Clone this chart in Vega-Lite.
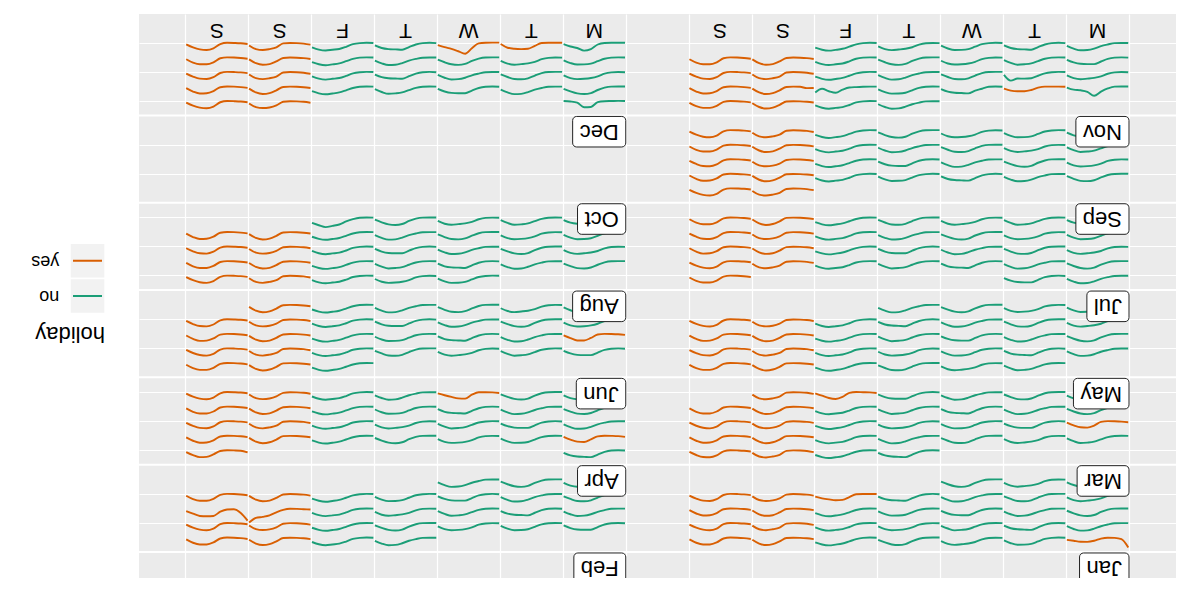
{
"$schema": "https://vega.github.io/schema/vega-lite/v6.json",
"background": "white",
"padding": {"left": 30, "top": 14, "right": 12, "bottom": 16},
"bounds": "flush",
"center": true,
"spacing": 34,
"config": {"view": {"stroke": null}, "font": "Liberation Sans", "text": {"font": "Liberation Sans", "color": "#000000"}},
"datasets": {
"legend": [{"key": "yes"}, {"key": "no"}, {"key": "holiday"}],
"months": [{"month":"Jan"},{"month":"Feb"},{"month":"Mar"},{"month":"Apr"},{"month":"May"},{"month":"Jun"},{"month":"Jul"},{"month":"Aug"},{"month":"Sep"},{"month":"Oct"},{"month":"Nov"},{"month":"Dec"}],
"days": [
{"date":"2018-01-01","holiday":"yes","value":[66,12,3,2,8,22,29,28,22,16]},
{"date":"2018-01-02","holiday":"no","value":[2,1,3,10,26,42,47,48,38,20]},
{"date":"2018-01-03","holiday":"no","value":[3,2,4,13,30,40,45,49,42,24]},
{"date":"2018-01-04","holiday":"no","value":[1,1,2,9,24,44,50,46,33,16]},
{"date":"2018-01-05","holiday":"no","value":[2,1,3,11,26,40,47,52,46,32]},
{"date":"2018-01-06","holiday":"yes","value":[11,6,3,2,4,26,44,50,40,15]},
{"date":"2018-01-07","holiday":"yes","value":[10,5,2,1,7,33,46,46,35,13]},
{"date":"2018-01-08","holiday":"no","value":[2,2,3,11,22,38,49,51,40,22]},
{"date":"2018-01-09","holiday":"no","value":[3,1,3,12,29,46,44,42,35,18]},
{"date":"2018-01-10","holiday":"no","value":[2,1,3,10,25,40,46,49,37,19]},
{"date":"2018-01-11","holiday":"no","value":[3,2,4,12,30,41,46,48,41,23]},
{"date":"2018-01-12","holiday":"no","value":[2,1,3,10,27,41,46,51,45,30]},
{"date":"2018-01-13","holiday":"yes","value":[13,6,3,2,5,31,42,48,42,18]},
{"date":"2018-01-14","holiday":"yes","value":[9,4,2,1,9,37,48,44,31,11]},
{"date":"2018-01-15","holiday":"no","value":[1,1,2,9,24,44,50,46,33,16]},
{"date":"2018-01-16","holiday":"no","value":[2,2,3,12,23,39,48,50,39,21]},
{"date":"2018-01-17","holiday":"no","value":[3,1,3,11,28,45,45,43,34,17]},
{"date":"2018-01-18","holiday":"no","value":[2,1,3,10,26,42,47,48,38,20]},
{"date":"2018-01-19","holiday":"no","value":[2,1,3,11,26,40,47,52,46,32]},
{"date":"2018-01-20","holiday":"yes","value":[12,6,3,2,5,27,45,49,39,14]},
{"date":"2018-01-21","holiday":"yes","value":[10,5,2,1,6,31,45,47,34,12]},
{"date":"2018-01-22","holiday":"no","value":[3,2,4,13,30,40,45,49,42,24]},
{"date":"2018-01-23","holiday":"no","value":[1,1,2,9,25,43,49,47,34,17]},
{"date":"2018-01-24","holiday":"no","value":[2,2,3,11,22,38,49,51,40,22]},
{"date":"2018-01-25","holiday":"no","value":[3,1,3,12,29,46,44,42,35,18]},
{"date":"2018-01-26","holiday":"yes","value":[2,2,2,3,22,40,42,37,30,19]},
{"date":"2018-01-27","holiday":"yes","value":[12,6,3,2,6,30,43,47,41,17]},
{"date":"2018-01-28","holiday":"yes","value":[9,4,2,1,8,35,47,45,32,12]},
{"date":"2018-01-29","holiday":"no","value":[2,1,3,10,26,42,47,48,38,20]},
{"date":"2018-01-30","holiday":"no","value":[3,2,4,13,30,40,45,49,42,24]},
{"date":"2018-01-31","holiday":"no","value":[1,1,2,9,24,44,50,46,33,16]},
{"date":"2018-02-01","holiday":"no","value":[2,2,3,11,22,38,49,51,40,22]},
{"date":"2018-02-02","holiday":"no","value":[2,1,3,10,27,41,46,51,45,30]},
{"date":"2018-02-03","holiday":"yes","value":[11,6,3,2,4,26,44,50,40,15]},
{"date":"2018-02-04","holiday":"yes","value":[10,5,2,1,7,33,46,46,35,13]},
{"date":"2018-02-05","holiday":"no","value":[3,1,3,11,28,45,45,43,34,17]},
{"date":"2018-02-06","holiday":"no","value":[2,1,3,10,26,42,47,48,38,20]},
{"date":"2018-02-07","holiday":"no","value":[3,2,4,12,30,41,46,48,41,23]},
{"date":"2018-02-08","holiday":"no","value":[1,1,2,9,24,44,50,46,33,16]},
{"date":"2018-02-09","holiday":"no","value":[2,1,3,11,26,40,47,52,46,32]},
{"date":"2018-02-10","holiday":"yes","value":[12,6,3,2,6,30,43,47,41,17]},
{"date":"2018-02-11","holiday":"yes","value":[9,4,2,1,9,37,48,44,31,11]},
{"date":"2018-02-12","holiday":"no","value":[2,2,3,12,23,39,48,50,39,21]},
{"date":"2018-02-13","holiday":"no","value":[3,1,3,12,29,46,44,42,35,18]},
{"date":"2018-02-14","holiday":"no","value":[2,1,3,10,25,40,46,49,37,19]},
{"date":"2018-02-15","holiday":"no","value":[3,2,4,13,30,40,45,49,42,24]},
{"date":"2018-02-16","holiday":"no","value":[2,1,3,10,27,41,46,51,45,30]},
{"date":"2018-02-17","holiday":"yes","value":[8,6,4,3,10,26,46,56,63,92]},
{"date":"2018-02-18","holiday":"yes","value":[80,30,6,8,22,50,52,50,35,18]},
{"date":"2018-02-19","holiday":"no","value":[1,1,2,9,25,43,49,47,34,17]},
{"date":"2018-02-20","holiday":"no","value":[2,2,3,11,22,38,49,51,40,22]},
{"date":"2018-02-21","holiday":"no","value":[3,1,3,11,28,45,45,43,34,17]},
{"date":"2018-02-22","holiday":"no","value":[2,1,3,10,26,42,47,48,38,20]},
{"date":"2018-02-23","holiday":"no","value":[2,1,3,11,26,40,47,52,46,32]},
{"date":"2018-02-24","holiday":"yes","value":[12,6,3,2,5,27,45,49,39,14]},
{"date":"2018-02-25","holiday":"yes","value":[10,5,2,1,7,33,46,46,35,13]},
{"date":"2018-02-26","holiday":"no","value":[3,2,4,13,30,40,45,49,42,24]},
{"date":"2018-02-27","holiday":"no","value":[1,1,2,9,24,44,50,46,33,16]},
{"date":"2018-02-28","holiday":"no","value":[2,2,3,12,23,39,48,50,39,21]},
{"date":"2018-03-01","holiday":"no","value":[3,1,3,12,29,46,44,42,35,18]},
{"date":"2018-03-02","holiday":"no","value":[2,1,3,11,26,40,47,52,46,32]},
{"date":"2018-03-03","holiday":"yes","value":[13,6,3,2,5,31,42,48,42,18]},
{"date":"2018-03-04","holiday":"yes","value":[9,4,2,1,8,35,47,45,32,12]},
{"date":"2018-03-05","holiday":"no","value":[2,1,3,10,25,40,46,49,37,19]},
{"date":"2018-03-06","holiday":"no","value":[3,2,4,13,30,40,45,49,42,24]},
{"date":"2018-03-07","holiday":"no","value":[1,1,2,9,25,43,49,47,34,17]},
{"date":"2018-03-08","holiday":"no","value":[2,2,3,11,22,38,49,51,40,22]},
{"date":"2018-03-09","holiday":"no","value":[2,1,3,10,27,41,46,51,45,30]},
{"date":"2018-03-10","holiday":"yes","value":[11,6,3,2,4,26,44,50,40,15]},
{"date":"2018-03-11","holiday":"yes","value":[10,5,2,1,6,31,45,47,34,12]},
{"date":"2018-03-12","holiday":"yes","value":[8,4,2,1,6,30,43,41,28,10]},
{"date":"2018-03-13","holiday":"no","value":[3,1,3,11,28,45,45,43,34,17]},
{"date":"2018-03-14","holiday":"no","value":[2,1,3,10,26,42,47,48,38,20]},
{"date":"2018-03-15","holiday":"no","value":[3,2,4,12,30,41,46,48,41,23]},
{"date":"2018-03-16","holiday":"no","value":[2,1,3,11,26,40,47,52,46,32]},
{"date":"2018-03-17","holiday":"yes","value":[12,6,3,2,6,30,43,47,41,17]},
{"date":"2018-03-18","holiday":"yes","value":[9,4,2,1,9,37,48,44,31,11]},
{"date":"2018-03-19","holiday":"no","value":[1,1,2,9,24,44,50,46,33,16]},
{"date":"2018-03-20","holiday":"no","value":[2,2,3,12,23,39,48,50,39,21]},
{"date":"2018-03-21","holiday":"no","value":[3,1,3,12,29,46,44,42,35,18]},
{"date":"2018-03-22","holiday":"no","value":[2,1,3,10,25,40,46,49,37,19]},
{"date":"2018-03-23","holiday":"no","value":[2,1,3,10,27,41,46,51,45,30]},
{"date":"2018-03-24","holiday":"yes","value":[12,6,3,2,5,27,45,49,39,14]},
{"date":"2018-03-25","holiday":"yes","value":[10,5,2,1,7,33,46,46,35,13]},
{"date":"2018-03-26","holiday":"no","value":[3,2,4,13,30,40,45,49,42,24]},
{"date":"2018-03-27","holiday":"no","value":[1,1,2,9,25,43,49,47,34,17]},
{"date":"2018-03-28","holiday":"no","value":[2,2,3,11,22,38,49,51,40,22]},
{"date":"2018-03-29","holiday":"no","value":[3,1,3,11,28,45,45,43,34,17]},
{"date":"2018-03-30","holiday":"yes","value":[7,3,2,1,6,33,46,40,25,9]},
{"date":"2018-03-31","holiday":"yes","value":[13,6,3,2,5,31,42,48,42,18]},
{"date":"2018-04-01","holiday":"yes","value":[15,4,2,1,6,28,44,46,33,13]},
{"date":"2018-04-02","holiday":"yes","value":[9,4,2,1,5,25,42,40,27,9]},
{"date":"2018-04-03","holiday":"no","value":[2,1,3,10,26,42,47,48,38,20]},
{"date":"2018-04-04","holiday":"no","value":[3,2,4,12,30,41,46,48,41,23]},
{"date":"2018-04-05","holiday":"no","value":[1,1,2,9,24,44,50,46,33,16]},
{"date":"2018-04-06","holiday":"no","value":[2,1,3,11,26,40,47,52,46,32]},
{"date":"2018-04-07","holiday":"yes","value":[11,6,3,2,4,26,44,50,40,15]},
{"date":"2018-04-08","holiday":"yes","value":[10,5,2,1,6,31,45,47,34,12]},
{"date":"2018-04-09","holiday":"no","value":[2,2,3,11,22,38,49,51,40,22]},
{"date":"2018-04-10","holiday":"no","value":[3,1,3,11,28,45,45,43,34,17]},
{"date":"2018-04-11","holiday":"no","value":[2,1,3,10,25,40,46,49,37,19]},
{"date":"2018-04-12","holiday":"no","value":[3,2,4,13,30,40,45,49,42,24]},
{"date":"2018-04-13","holiday":"no","value":[2,1,3,10,27,41,46,51,45,30]},
{"date":"2018-04-14","holiday":"yes","value":[13,6,3,2,5,31,42,48,42,18]},
{"date":"2018-04-15","holiday":"yes","value":[9,4,2,1,8,35,47,45,32,12]},
{"date":"2018-04-16","holiday":"no","value":[1,1,2,9,25,43,49,47,34,17]},
{"date":"2018-04-17","holiday":"no","value":[2,2,3,12,23,39,48,50,39,21]},
{"date":"2018-04-18","holiday":"no","value":[3,1,3,12,29,46,44,42,35,18]},
{"date":"2018-04-19","holiday":"no","value":[2,1,3,10,26,42,47,48,38,20]},
{"date":"2018-04-20","holiday":"no","value":[2,1,3,11,26,40,47,52,46,32]},
{"date":"2018-04-21","holiday":"yes","value":[12,6,3,2,5,27,45,49,39,14]},
{"date":"2018-04-22","holiday":"yes","value":[10,5,2,1,7,33,46,46,35,13]},
{"date":"2018-04-23","holiday":"no","value":[3,2,4,12,30,41,46,48,41,23]},
{"date":"2018-04-24","holiday":"no","value":[1,1,2,9,24,44,50,46,33,16]},
{"date":"2018-04-25","holiday":"yes","value":[7,3,2,2,18,44,42,33,22,10]},
{"date":"2018-04-26","holiday":"no","value":[2,2,3,11,22,38,49,51,40,22]},
{"date":"2018-04-27","holiday":"no","value":[2,1,3,10,27,41,46,51,45,30]},
{"date":"2018-04-28","holiday":"yes","value":[12,6,3,2,6,30,43,47,41,17]},
{"date":"2018-04-29","holiday":"yes","value":[9,4,2,1,9,37,48,44,31,11]},
{"date":"2018-04-30","holiday":"no","value":[3,1,3,12,29,46,44,42,35,18]},
{"date":"2018-05-01","holiday":"no","value":[2,1,3,10,25,40,46,49,37,19]},
{"date":"2018-05-02","holiday":"no","value":[3,2,4,13,30,40,45,49,42,24]},
{"date":"2018-05-03","holiday":"no","value":[1,1,2,9,25,43,49,47,34,17]},
{"date":"2018-05-04","holiday":"no","value":[2,1,3,11,26,40,47,52,46,32]},
{"date":"2018-05-05","holiday":"yes","value":[11,6,3,2,4,26,44,50,40,15]},
{"date":"2018-05-06","holiday":"yes","value":[10,5,2,1,7,33,46,46,35,13]},
{"date":"2018-05-07","holiday":"no","value":[2,2,3,12,23,39,48,50,39,21]},
{"date":"2018-05-08","holiday":"no","value":[3,1,3,12,29,46,44,42,35,18]},
{"date":"2018-05-09","holiday":"no","value":[2,1,3,10,26,42,47,48,38,20]},
{"date":"2018-05-10","holiday":"no","value":[3,2,4,12,30,41,46,48,41,23]},
{"date":"2018-05-11","holiday":"no","value":[2,1,3,10,27,41,46,51,45,30]},
{"date":"2018-05-12","holiday":"yes","value":[13,6,3,2,5,31,42,48,42,18]},
{"date":"2018-05-13","holiday":"yes","value":[9,4,2,1,8,35,47,45,32,12]},
{"date":"2018-05-14","holiday":"no","value":[1,1,2,9,24,44,50,46,33,16]},
{"date":"2018-05-15","holiday":"no","value":[2,2,3,11,22,38,49,51,40,22]},
{"date":"2018-05-16","holiday":"no","value":[3,1,3,11,28,45,45,43,34,17]},
{"date":"2018-05-17","holiday":"no","value":[2,1,3,10,25,40,46,49,37,19]},
{"date":"2018-05-18","holiday":"no","value":[2,1,3,11,26,40,47,52,46,32]},
{"date":"2018-05-19","holiday":"yes","value":[12,6,3,2,5,27,45,49,39,14]},
{"date":"2018-05-20","holiday":"yes","value":[10,5,2,1,6,31,45,47,34,12]},
{"date":"2018-05-21","holiday":"no","value":[3,2,4,13,30,40,45,49,42,24]},
{"date":"2018-05-22","holiday":"no","value":[1,1,2,9,25,43,49,47,34,17]},
{"date":"2018-05-23","holiday":"no","value":[2,2,3,12,23,39,48,50,39,21]},
{"date":"2018-05-24","holiday":"no","value":[3,1,3,12,29,46,44,42,35,18]},
{"date":"2018-05-25","holiday":"no","value":[2,1,3,10,27,41,46,51,45,30]},
{"date":"2018-05-26","holiday":"yes","value":[12,6,3,2,6,30,43,47,41,17]},
{"date":"2018-05-27","holiday":"yes","value":[9,4,2,1,9,37,48,44,31,11]},
{"date":"2018-05-28","holiday":"no","value":[2,1,3,10,26,42,47,48,38,20]},
{"date":"2018-05-29","holiday":"no","value":[3,2,4,12,30,41,46,48,41,23]},
{"date":"2018-05-30","holiday":"no","value":[1,1,2,9,24,44,50,46,33,16]},
{"date":"2018-05-31","holiday":"no","value":[2,2,3,11,22,38,49,51,40,22]},
{"date":"2018-06-01","holiday":"no","value":[2,1,3,11,26,40,47,52,46,32]},
{"date":"2018-06-02","holiday":"yes","value":[11,6,3,2,4,26,44,50,40,15]},
{"date":"2018-06-03","holiday":"yes","value":[10,5,2,1,7,33,46,46,35,13]},
{"date":"2018-06-04","holiday":"no","value":[3,1,3,11,28,45,45,43,34,17]},
{"date":"2018-06-05","holiday":"no","value":[2,1,3,10,25,40,46,49,37,19]},
{"date":"2018-06-06","holiday":"no","value":[3,2,4,13,30,40,45,49,42,24]},
{"date":"2018-06-07","holiday":"no","value":[1,1,2,9,25,43,49,47,34,17]},
{"date":"2018-06-08","holiday":"no","value":[2,1,3,10,27,41,46,51,45,30]},
{"date":"2018-06-09","holiday":"yes","value":[13,6,3,2,5,31,42,48,42,18]},
{"date":"2018-06-10","holiday":"yes","value":[9,4,2,1,9,37,48,44,31,11]},
{"date":"2018-06-11","holiday":"yes","value":[8,4,2,1,5,28,44,44,29,11]},
{"date":"2018-06-12","holiday":"no","value":[2,2,3,11,22,38,49,51,40,22]},
{"date":"2018-06-13","holiday":"no","value":[3,1,3,12,29,46,44,42,35,18]},
{"date":"2018-06-14","holiday":"no","value":[2,1,3,10,26,42,47,48,38,20]},
{"date":"2018-06-15","holiday":"no","value":[2,1,3,11,26,40,47,52,46,32]},
{"date":"2018-06-16","holiday":"yes","value":[12,6,3,2,5,27,45,49,39,14]},
{"date":"2018-06-17","holiday":"yes","value":[10,5,2,1,6,31,45,47,34,12]},
{"date":"2018-06-18","holiday":"no","value":[3,2,4,12,30,41,46,48,41,23]},
{"date":"2018-06-19","holiday":"no","value":[1,1,2,9,24,44,50,46,33,16]},
{"date":"2018-06-20","holiday":"no","value":[2,2,3,12,23,39,48,50,39,21]},
{"date":"2018-06-21","holiday":"no","value":[3,1,3,11,28,45,45,43,34,17]},
{"date":"2018-06-22","holiday":"no","value":[2,1,3,10,27,41,46,51,45,30]},
{"date":"2018-06-23","holiday":"yes","value":[12,6,3,2,6,30,43,47,41,17]},
{"date":"2018-06-24","holiday":"yes","value":[9,4,2,1,8,35,47,45,32,12]},
{"date":"2018-06-25","holiday":"no","value":[2,1,3,10,25,40,46,49,37,19]},
{"date":"2018-06-26","holiday":"no","value":[3,2,4,13,30,40,45,49,42,24]},
{"date":"2018-06-27","holiday":"no","value":[1,1,2,9,25,43,49,47,34,17]},
{"date":"2018-06-28","holiday":"no","value":[2,2,3,11,22,38,49,51,40,22]},
{"date":"2018-06-29","holiday":"no","value":[2,1,3,11,26,40,47,52,46,32]},
{"date":"2018-06-30","holiday":"yes","value":[11,6,3,2,4,26,44,50,40,15]},
{"date":"2018-07-01","holiday":"yes","value":[10,5,2,1,7,33,46,46,35,13]},
{"date":"2018-07-02","holiday":"no","value":[1,1,2,9,24,44,50,46,33,16]},
{"date":"2018-07-03","holiday":"no","value":[2,2,3,12,23,39,48,50,39,21]},
{"date":"2018-07-04","holiday":"no","value":[3,1,3,12,29,46,44,42,35,18]},
{"date":"2018-07-05","holiday":"no","value":[2,1,3,10,25,40,46,49,37,19]},
{"date":"2018-07-06","holiday":"no","value":[2,1,3,10,27,41,46,51,45,30]},
{"date":"2018-07-07","holiday":"yes","value":[13,6,3,2,5,31,42,48,42,18]},
{"date":"2018-07-08","holiday":"yes","value":[9,4,2,1,9,37,48,44,31,11]},
{"date":"2018-07-09","holiday":"no","value":[3,2,4,13,30,40,45,49,42,24]},
{"date":"2018-07-10","holiday":"no","value":[1,1,2,9,25,43,49,47,34,17]},
{"date":"2018-07-11","holiday":"no","value":[2,2,3,11,22,38,49,51,40,22]},
{"date":"2018-07-12","holiday":"no","value":[3,1,3,11,28,45,45,43,34,17]},
{"date":"2018-07-13","holiday":"no","value":[2,1,3,11,26,40,47,52,46,32]},
{"date":"2018-07-14","holiday":"yes","value":[12,6,3,2,5,27,45,49,39,14]},
{"date":"2018-07-15","holiday":"yes","value":[10,5,2,1,6,31,45,47,34,12]},
{"date":"2018-07-16","holiday":"no","value":[2,1,3,10,26,42,47,48,38,20]},
{"date":"2018-07-17","holiday":"no","value":[3,2,4,12,30,41,46,48,41,23]},
{"date":"2018-07-18","holiday":"no","value":[1,1,2,9,24,44,50,46,33,16]},
{"date":"2018-07-19","holiday":"no","value":[2,2,3,12,23,39,48,50,39,21]},
{"date":"2018-07-20","holiday":"no","value":[2,1,3,10,27,41,46,51,45,30]},
{"date":"2018-07-21","holiday":"yes","value":[12,6,3,2,6,30,43,47,41,17]},
{"date":"2018-07-22","holiday":"yes","value":[9,4,2,1,8,35,47,45,32,12]},
{"date":"2018-07-23","holiday":"no","value":[3,1,3,12,29,46,44,42,35,18]},
{"date":"2018-07-24","holiday":"no","value":[2,1,3,10,25,40,46,49,37,19]},
{"date":"2018-07-25","holiday":"no","value":[3,2,4,13,30,40,45,49,42,24]},
{"date":"2018-07-26","holiday":"no","value":[1,1,2,9,25,43,49,47,34,17]},
{"date":"2018-07-27","holiday":"no","value":[2,1,3,11,26,40,47,52,46,32]},
{"date":"2018-07-28","holiday":"yes","value":[11,6,3,2,4,26,44,50,40,15]},
{"date":"2018-07-29","holiday":"yes","value":[10,5,2,1,7,33,46,46,35,13]},
{"date":"2018-07-30","holiday":"no","value":[2,2,3,11,22,38,49,51,40,22]},
{"date":"2018-07-31","holiday":"no","value":[3,1,3,11,28,45,45,43,34,17]},
{"date":"2018-08-01","holiday":"no","value":[2,1,3,10,26,42,47,48,38,20]},
{"date":"2018-08-02","holiday":"no","value":[3,2,4,12,30,41,46,48,41,23]},
{"date":"2018-08-03","holiday":"no","value":[2,1,3,10,27,41,46,51,45,30]},
{"date":"2018-08-04","holiday":"yes","value":[13,6,3,2,5,31,42,48,42,18]},
{"date":"2018-08-05","holiday":"yes","value":[9,4,2,1,9,37,48,44,31,11]},
{"date":"2018-08-06","holiday":"no","value":[1,1,2,9,25,43,49,47,34,17]},
{"date":"2018-08-07","holiday":"no","value":[2,2,3,11,22,38,49,51,40,22]},
{"date":"2018-08-08","holiday":"no","value":[3,1,3,12,29,46,44,42,35,18]},
{"date":"2018-08-09","holiday":"no","value":[2,1,3,10,25,40,46,49,37,19]},
{"date":"2018-08-10","holiday":"no","value":[2,1,3,11,26,40,47,52,46,32]},
{"date":"2018-08-11","holiday":"yes","value":[12,6,3,2,5,27,45,49,39,14]},
{"date":"2018-08-12","holiday":"yes","value":[10,5,2,1,7,33,46,46,35,13]},
{"date":"2018-08-13","holiday":"no","value":[3,2,4,13,30,40,45,49,42,24]},
{"date":"2018-08-14","holiday":"no","value":[1,1,2,9,24,44,50,46,33,16]},
{"date":"2018-08-15","holiday":"no","value":[2,2,3,12,23,39,48,50,39,21]},
{"date":"2018-08-16","holiday":"no","value":[3,1,3,11,28,45,45,43,34,17]},
{"date":"2018-08-17","holiday":"no","value":[2,1,3,10,27,41,46,51,45,30]},
{"date":"2018-08-18","holiday":"yes","value":[12,6,3,2,6,30,43,47,41,17]},
{"date":"2018-08-19","holiday":"yes","value":[9,4,2,1,8,35,47,45,32,12]},
{"date":"2018-08-20","holiday":"no","value":[2,1,3,10,26,42,47,48,38,20]},
{"date":"2018-08-21","holiday":"no","value":[3,2,4,12,30,41,46,48,41,23]},
{"date":"2018-08-22","holiday":"no","value":[1,1,2,9,25,43,49,47,34,17]},
{"date":"2018-08-23","holiday":"no","value":[2,2,3,11,22,38,49,51,40,22]},
{"date":"2018-08-24","holiday":"no","value":[2,1,3,11,26,40,47,52,46,32]},
{"date":"2018-08-25","holiday":"yes","value":[11,6,3,2,4,26,44,50,40,15]},
{"date":"2018-08-26","holiday":"yes","value":[10,5,2,1,6,31,45,47,34,12]},
{"date":"2018-08-27","holiday":"no","value":[3,1,3,12,29,46,44,42,35,18]},
{"date":"2018-08-28","holiday":"no","value":[2,1,3,10,25,40,46,49,37,19]},
{"date":"2018-08-29","holiday":"no","value":[3,2,4,13,30,40,45,49,42,24]},
{"date":"2018-08-30","holiday":"no","value":[1,1,2,9,24,44,50,46,33,16]},
{"date":"2018-08-31","holiday":"no","value":[2,1,3,12,27,47,56,64,52,37]},
{"date":"2018-09-01","holiday":"yes","value":[13,6,3,2,5,31,42,48,42,18]},
{"date":"2018-09-02","holiday":"yes","value":[9,4,2,1,9,37,48,44,31,11]},
{"date":"2018-09-03","holiday":"no","value":[1,1,2,9,25,43,49,47,34,17]},
{"date":"2018-09-04","holiday":"no","value":[2,2,3,12,23,39,48,50,39,21]},
{"date":"2018-09-05","holiday":"no","value":[3,1,3,12,29,46,44,42,35,18]},
{"date":"2018-09-06","holiday":"no","value":[2,1,3,10,26,42,47,48,38,20]},
{"date":"2018-09-07","holiday":"no","value":[2,1,3,10,27,41,46,51,45,30]},
{"date":"2018-09-08","holiday":"yes","value":[11,6,3,2,4,26,44,50,40,15]},
{"date":"2018-09-09","holiday":"yes","value":[10,5,2,1,6,31,45,47,34,12]},
{"date":"2018-09-10","holiday":"no","value":[3,2,4,12,30,41,46,48,41,23]},
{"date":"2018-09-11","holiday":"no","value":[1,1,2,9,24,44,50,46,33,16]},
{"date":"2018-09-12","holiday":"no","value":[2,2,3,11,22,38,49,51,40,22]},
{"date":"2018-09-13","holiday":"no","value":[3,1,3,11,28,45,45,43,34,17]},
{"date":"2018-09-14","holiday":"no","value":[2,1,3,11,26,40,47,52,46,32]},
{"date":"2018-09-15","holiday":"yes","value":[12,6,3,2,6,30,43,47,41,17]},
{"date":"2018-09-16","holiday":"yes","value":[9,4,2,1,8,35,47,45,32,12]},
{"date":"2018-09-17","holiday":"no","value":[2,1,3,10,25,40,46,49,37,19]},
{"date":"2018-09-18","holiday":"no","value":[3,2,4,13,30,40,45,49,42,24]},
{"date":"2018-09-19","holiday":"no","value":[1,1,2,9,25,43,49,47,34,17]},
{"date":"2018-09-20","holiday":"no","value":[2,2,3,12,23,39,48,50,39,21]},
{"date":"2018-09-21","holiday":"no","value":[2,1,3,10,27,41,46,51,45,30]},
{"date":"2018-09-22","holiday":"yes","value":[12,6,3,2,5,27,45,49,39,14]},
{"date":"2018-09-23","holiday":"yes","value":[10,5,2,1,7,33,46,46,35,13]},
{"date":"2018-09-24","holiday":"no","value":[3,1,3,12,29,46,44,42,35,18]},
{"date":"2018-09-25","holiday":"no","value":[2,1,3,10,26,42,47,48,38,20]},
{"date":"2018-09-26","holiday":"no","value":[3,2,4,12,30,41,46,48,41,23]},
{"date":"2018-09-27","holiday":"no","value":[1,1,2,9,24,44,50,46,33,16]},
{"date":"2018-09-28","holiday":"no","value":[2,1,3,11,26,40,47,52,46,32]},
{"date":"2018-09-29","holiday":"yes","value":[13,6,3,2,5,31,42,48,42,18]},
{"date":"2018-09-30","holiday":"yes","value":[9,4,2,1,9,37,48,44,31,11]},
{"date":"2018-11-01","holiday":"no","value":[2,2,3,11,22,38,49,51,40,22]},
{"date":"2018-11-02","holiday":"no","value":[2,1,3,10,27,41,46,51,45,30]},
{"date":"2018-11-03","holiday":"yes","value":[11,6,3,2,4,26,44,50,40,15]},
{"date":"2018-11-04","holiday":"yes","value":[10,5,2,1,7,33,46,46,35,13]},
{"date":"2018-11-05","holiday":"no","value":[1,1,2,14,35,62,36,26,22,8]},
{"date":"2018-11-06","holiday":"yes","value":[3,2,2,2,9,24,32,32,28,15]},
{"date":"2018-11-07","holiday":"no","value":[3,1,3,16,28,46,44,42,35,18]},
{"date":"2018-11-08","holiday":"no","value":[2,1,3,10,26,42,47,48,38,20]},
{"date":"2018-11-09","holiday":"no","value":[2,2,3,5,8,22,42,32,16,40]},
{"date":"2018-11-10","holiday":"yes","value":[11,12,3,2,4,26,44,50,40,15]},
{"date":"2018-11-11","holiday":"yes","value":[10,5,2,1,6,31,45,47,34,12]},
{"date":"2018-11-12","holiday":"no","value":[3,2,4,13,30,40,45,49,42,24]},
{"date":"2018-11-13","holiday":"no","value":[2,1,3,10,26,42,45,44,58,20]},
{"date":"2018-11-14","holiday":"no","value":[1,1,2,9,25,43,49,47,34,17]},
{"date":"2018-11-15","holiday":"no","value":[2,2,3,11,22,38,49,51,40,22]},
{"date":"2018-11-16","holiday":"no","value":[2,1,3,11,26,40,47,52,46,32]},
{"date":"2018-11-17","holiday":"yes","value":[13,6,3,2,5,31,42,48,42,18]},
{"date":"2018-11-18","holiday":"yes","value":[9,4,2,1,8,35,47,45,32,12]},
{"date":"2018-11-19","holiday":"no","value":[3,1,3,11,28,45,45,43,34,17]},
{"date":"2018-11-20","holiday":"no","value":[2,1,3,10,25,40,46,49,37,19]},
{"date":"2018-11-21","holiday":"no","value":[3,2,4,12,30,41,46,48,41,23]},
{"date":"2018-11-22","holiday":"no","value":[1,1,2,9,24,44,50,46,33,16]},
{"date":"2018-11-23","holiday":"no","value":[2,1,3,10,27,41,46,51,45,30]},
{"date":"2018-11-24","holiday":"yes","value":[12,6,3,2,5,27,45,49,39,14]},
{"date":"2018-11-25","holiday":"yes","value":[10,5,2,1,7,33,46,46,35,13]},
{"date":"2018-11-26","holiday":"no","value":[2,2,3,12,23,39,48,50,39,21]},
{"date":"2018-11-27","holiday":"no","value":[3,1,3,12,29,46,44,42,35,18]},
{"date":"2018-11-28","holiday":"no","value":[2,1,3,10,26,42,47,48,38,20]},
{"date":"2018-11-29","holiday":"no","value":[3,2,4,13,30,40,45,49,42,24]},
{"date":"2018-11-30","holiday":"no","value":[2,1,3,11,26,40,47,52,46,32]},
{"date":"2018-12-01","holiday":"yes","value":[12,6,3,2,6,30,43,47,41,17]},
{"date":"2018-12-02","holiday":"yes","value":[9,4,2,1,9,37,48,44,31,11]},
{"date":"2018-12-03","holiday":"no","value":[1,1,2,9,24,44,50,46,33,16]},
{"date":"2018-12-04","holiday":"no","value":[2,2,3,11,22,38,49,51,40,22]},
{"date":"2018-12-05","holiday":"no","value":[3,1,3,11,28,45,45,43,34,17]},
{"date":"2018-12-06","holiday":"no","value":[2,1,3,10,25,40,46,49,37,19]},
{"date":"2018-12-07","holiday":"no","value":[2,1,3,11,26,40,47,52,46,32]},
{"date":"2018-12-08","holiday":"yes","value":[11,6,3,2,4,26,44,50,40,15]},
{"date":"2018-12-09","holiday":"yes","value":[10,5,2,1,6,31,45,47,34,12]},
{"date":"2018-12-10","holiday":"no","value":[3,2,4,12,30,41,46,48,41,23]},
{"date":"2018-12-11","holiday":"no","value":[1,1,2,9,25,43,49,47,34,17]},
{"date":"2018-12-12","holiday":"no","value":[2,2,3,12,23,39,48,50,39,21]},
{"date":"2018-12-13","holiday":"no","value":[3,1,3,12,29,46,44,42,35,18]},
{"date":"2018-12-14","holiday":"no","value":[2,1,3,10,27,41,46,51,45,30]},
{"date":"2018-12-15","holiday":"yes","value":[13,6,3,2,5,31,42,48,42,18]},
{"date":"2018-12-16","holiday":"yes","value":[9,4,2,1,8,35,47,45,32,12]},
{"date":"2018-12-17","holiday":"no","value":[2,1,3,10,26,42,47,48,38,20]},
{"date":"2018-12-18","holiday":"no","value":[3,2,4,13,30,40,45,49,42,24]},
{"date":"2018-12-19","holiday":"no","value":[1,1,2,9,24,44,50,46,33,16]},
{"date":"2018-12-20","holiday":"no","value":[2,2,3,11,22,38,49,51,40,22]},
{"date":"2018-12-21","holiday":"no","value":[2,1,3,11,26,40,47,52,46,32]},
{"date":"2018-12-22","holiday":"yes","value":[12,6,3,2,5,27,45,49,39,14]},
{"date":"2018-12-23","holiday":"yes","value":[10,5,2,1,7,33,46,46,35,13]},
{"date":"2018-12-24","holiday":"no","value":[1,1,1,2,12,42,52,35,25,9]},
{"date":"2018-12-25","holiday":"yes","value":[1,1,1,2,21,40,42,40,33,9]},
{"date":"2018-12-26","holiday":"yes","value":[0,0,1,5,36,72,56,41,29,16]},
{"date":"2018-12-27","holiday":"no","value":[3,1,3,12,29,46,44,42,35,18]},
{"date":"2018-12-28","holiday":"no","value":[2,1,3,10,27,41,46,51,45,30]},
{"date":"2018-12-29","holiday":"yes","value":[13,6,3,2,5,31,42,48,42,18]},
{"date":"2018-12-30","holiday":"yes","value":[9,4,2,1,9,37,48,44,31,11]},
{"date":"2018-12-31","holiday":"no","value":[1,0,1,2,8,40,42,12,4,1]}
]
},
"hconcat": [
{
"width": 75,
"height": 104,
"data": {"name": "legend"},
"view": {"stroke": null},
"encoding": {
"y": {"field": "key", "type": "nominal", "title": null, "axis": null,
"scale": {"type": "band", "domain": ["yes", "no", "holiday"], "paddingInner": 0.05, "paddingOuter": 0}}
},
"layer": [
{"transform": [{"filter": "datum.key !== 'holiday'"}],
"mark": {"type": "rect", "fill": "#F2F2F2"},
"encoding": {"x": {"datum": 0.543, "type": "quantitative", "scale": {"domain": [0, 1], "nice": false, "zero": false}, "axis": null}, "x2": {"datum": 0.991}}},
{"transform": [{"filter": "datum.key !== 'holiday'"}],
"mark": {"type": "rule", "strokeWidth": 2},
"encoding": {"x": {"datum": 0.573, "type": "quantitative"}, "x2": {"datum": 0.96},
"color": {"field": "key", "type": "nominal", "scale": {"domain": ["no", "yes"], "range": ["#1B9E77", "#D95F02"]}, "legend": null}}},
{"transform": [{"filter": "datum.key !== 'holiday'"}],
"mark": {"type": "text", "angle": 180, "align": "left", "baseline": "middle", "fontSize": 18, "font": "Liberation Sans", "color": "#000000"},
"encoding": {"x": {"datum": 0.39, "type": "quantitative"}, "text": {"field": "key"}}},
{"transform": [{"filter": "datum.key === 'holiday'"}],
"mark": {"type": "text", "angle": 180, "align": "left", "baseline": "middle", "fontSize": 22, "font": "Liberation Sans", "color": "#000000", "dy": -3},
"encoding": {"x": {"datum": 1.0, "type": "quantitative"}, "text": {"field": "key"}}}
]
},
{
"width": 1037,
"height": 564,
"view": {"fill": "#EBEBEB", "stroke": null},
"layer": [
{
"data": {"name": "days"},
"transform": [
{"flatten": ["value"]},
{"window": [{"op": "row_number", "as": "idx"}], "groupby": ["date"]},
{"calculate": "toDate(datum.date)", "as": "dt"},
{"calculate": "utcmonth(datum.dt)", "as": "mo"},
{"calculate": "utcdate(datum.dt)", "as": "dom"},
{"calculate": "(utcday(datum.dt) + 6) % 7", "as": "dow"},
{"calculate": "floor((datum.dom - 1 + ((datum.dow - datum.dom + 1) % 7 + 7) % 7) / 7) % 5", "as": "wk"},
{"calculate": "(datum.mo % 2) * 8 + datum.dow + 0.012 + (datum.idx - 1) / 9 * 0.976", "as": "px"},
{"calculate": "34 - 6 * floor(datum.mo / 2) - datum.wk + datum.value / 95", "as": "py"}
],
"mark": {"type": "line", "strokeWidth": 1.9, "interpolate": "monotone"},
"encoding": {
"x": {"field": "px", "type": "quantitative", "title": null,
"scale": {"domain": [-0.747, 15.738], "reverse": true, "nice": false, "zero": false},
"axis": {"values": [0,1,2,3,4,5,6,7,8,9,10,11,12,13,14,15], "grid": true, "gridColor": "#FFFFFF", "gridWidth": 1.2, "labels": false, "ticks": false, "domain": false, "title": null}},
"y": {"field": "py", "type": "quantitative", "title": null,
"scale": {"domain": [-1.97, 36.79], "reverse": true, "nice": false, "zero": false},
"axis": {"values": [0,1,2,3,4,6,7,8,9,10,12,13,14,15,16,18,19,20,21,22,24,25,26,27,28,30,31,32,33,34], "grid": true, "gridColor": "#FFFFFF", "gridWidth": 1.1,
"labels": false, "ticks": false, "domain": false, "title": null}},
"color": {"field": "holiday", "type": "nominal", "scale": {"domain": ["no", "yes"], "range": ["#1B9E77", "#D95F02"]}, "legend": null},
"detail": {"field": "date"}
}
},
{
"data": {"name": "months"},
"transform": [
{"calculate": "indexof(['Jan','Feb','Mar','Apr','May','Jun','Jul','Aug','Sep','Oct','Nov','Dec'], datum.month)", "as": "mo"},
{"calculate": "{'J':0.5,'a':0.556,'n':0.556,'F':0.611,'e':0.556,'b':0.556,'M':0.833,'r':0.333,'A':0.667,'p':0.556,'y':0.5,'u':0.556,'l':0.222,'g':0.556,'S':0.667,'O':0.778,'c':0.5,'t':0.278,'N':0.722,'o':0.556,'v':0.5,'D':0.722}", "as": "glyph"},
{"calculate": "((datum.glyph[substring(datum.month,0,1)] + datum.glyph[substring(datum.month,1,2)] + datum.glyph[substring(datum.month,2,3)]) * 22 + 14) / 62.9", "as": "bw"},
{"calculate": "(datum.mo % 2) * 8", "as": "bx"},
{"calculate": "datum.bx + datum.bw", "as": "bx2"},
{"calculate": "datum.bx + datum.bw / 2", "as": "tx"},
{"calculate": "36.12 - 6 * floor(datum.mo / 2)", "as": "by"},
{"calculate": "datum.by - 1.05", "as": "by1"},
{"calculate": "datum.by + 1.05", "as": "by2"},
{"calculate": "35 - 6 * floor(datum.mo / 2)", "as": "major"}
],
"layer": [
{"transform": [{"filter": "datum.mo % 2 === 0"}],
"mark": {"type": "rule", "color": "#FFFFFF", "strokeWidth": 2},
"encoding": {"y": {"field": "major", "type": "quantitative", "title": null}}},
{"mark": {"type": "rect", "fill": "#FFFFFF", "stroke": "#222222", "strokeWidth": 1, "cornerRadius": 4, "clip": true},
"encoding": {"x": {"field": "bx", "type": "quantitative", "title": null}, "x2": {"field": "bx2"}, "y": {"field": "by1", "type": "quantitative", "title": null}, "y2": {"field": "by2"}}},
{"mark": {"type": "text", "angle": 180, "align": "center", "baseline": "middle", "fontSize": 22, "font": "Liberation Sans", "color": "#000000", "clip": true},
"encoding": {"x": {"field": "tx", "type": "quantitative", "title": null}, "y": {"field": "by", "type": "quantitative", "title": null}, "text": {"field": "month"}}}
]
},
{
"data": {"name": "days"},
"transform": [
{"calculate": "toDate(datum.date)", "as": "dt"},
{"calculate": "utcmonth(datum.dt) % 2", "as": "side"},
{"calculate": "(utcday(datum.dt) + 6) % 7", "as": "dow"},
{"aggregate": [{"op": "count", "as": "n"}], "groupby": ["side", "dow"]},
{"calculate": "['M','T','W','T','F','S','S'][datum.dow]", "as": "label"},
{"calculate": "datum.side * 8 + datum.dow + 0.5", "as": "lx"}
],
"mark": {"type": "text", "angle": 180, "align": "center", "baseline": "middle", "fontSize": 21, "font": "Liberation Sans", "color": "#000000"},
"encoding": {"x": {"field": "lx", "type": "quantitative", "title": null}, "y": {"datum": -0.9, "type": "quantitative", "title": null}, "text": {"field": "label"}}
}
]
}
]
}
